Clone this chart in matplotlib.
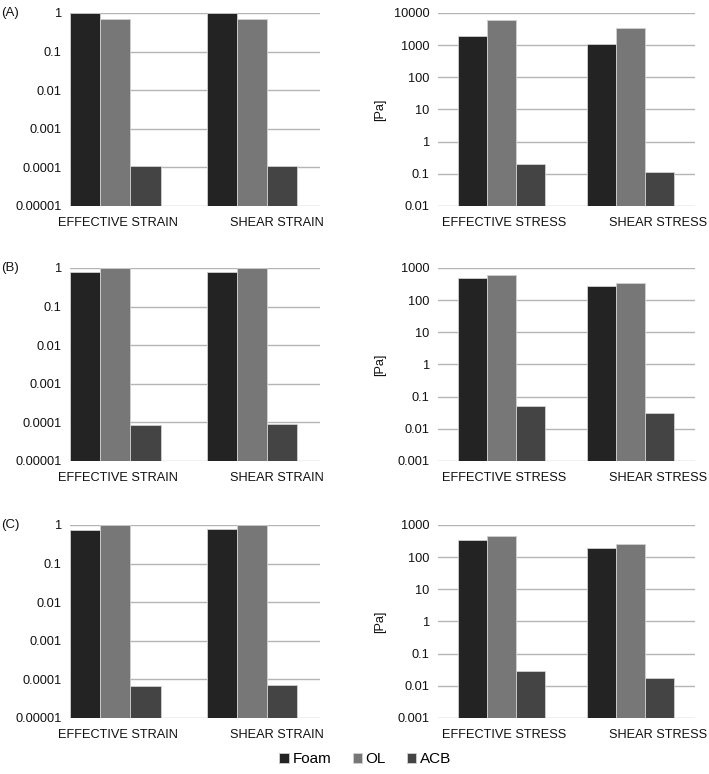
import matplotlib.pyplot as plt
import numpy as np

plt.rcParams['font.family'] = ['Liberation Sans', 'DejaVu Sans']
plt.rcParams['font.size'] = 9.2

series = ['Foam', 'OL', 'ACB']
colors = ['#232323', '#777777', '#444444']

strainCats = ['EFFECTIVE STRAIN', 'SHEAR STRAIN']
stressCats = ['EFFECTIVE STRESS', 'SHEAR STRESS']

# strain values per panel: rows = Foam, OL, ACB ; cols = effective, shear
strainA = [[1.0, 1.0], [0.71, 0.71], [1.08e-4, 1.08e-4]]
strainB = [[0.77, 0.77], [1.0, 1.0], [8.8e-5, 9.2e-5]]
strainC = [[0.76, 0.77], [1.0, 1.0], [6.9e-5, 7.1e-5]]

# stress values [Pa]
stressA = [[1900, 1100], [5930, 3440], [0.195, 0.11]]
stressB = [[471, 269], [611, 339], [0.0525, 0.0305]]
stressC = [[332, 186], [442, 249], [0.0298, 0.0173]]

strainTicks = [1e-5, 1e-4, 1e-3, 1e-2, 1e-1, 1]
strainLabels = ['0.00001', '0.0001', '0.001', '0.01', '0.1', '1']
stressTicksA = [0.01, 0.1, 1, 10, 100, 1000, 10000]
stressLabelsA = ['0.01', '0.1', '1', '10', '100', '1000', '10000']
stressTicksBC = [0.001, 0.01, 0.1, 1, 10, 100, 1000]
stressLabelsBC = ['0.001', '0.01', '0.1', '1', '10', '100', '1000']

panels = ['(A)', '(B)', '(C)']
rowBottoms = [0.7339, 0.4044, 0.0724]
rowHeight = 0.2494

fig = plt.figure(figsize=(7.09, 7.74), dpi=100)

def drawPanel(ax, data, cats, ticks, labels, width, xlim, labelPos):
    x = np.arange(len(cats))
    base = ticks[0]
    for i in range(len(series)):
        vals = np.array(data[i])
        ax.bar(x + (i - 1)*width, vals - base, width, bottom=base,
               color=colors[i], edgecolor='#d0d0d0', linewidth=0.6,
               label=series[i], zorder=3)
    ax.set_yscale('log')
    ax.set_ylim(ticks[0], ticks[-1])
    ax.set_yticks(ticks)
    ax.set_yticklabels(labels)
    ax.minorticks_off()
    # category labels sit a bit to the right of the second group, like the original
    ax.set_xticks(labelPos)
    ax.set_xticklabels(cats)
    ax.set_xlim(xlim)
    ax.tick_params(length=0, pad=8, colors='#111111')
    ax.tick_params(axis='y', pad=6)
    for t in ticks:
        ax.axhline(t, color='#b5b5b5', linewidth=1.0, zorder=1)
    for s in ax.spines.values():
        s.set_visible(False)

strains = [strainA, strainB, strainC]
stresses = [stressA, stressB, stressC]

for r in range(3):
    axL = fig.add_axes([0.0987, rowBottoms[r], 0.3526, rowHeight])
    drawPanel(axL, strains[r], strainCats, strainTicks, strainLabels, 0.22,
              (-0.333, 1.498), [0.018, 1.183])
    fig.text(0.002, rowBottoms[r] + rowHeight, panels[r], ha='left', va='center',
             fontsize=9.5, color='#111111')

    axR = fig.add_axes([0.6178, rowBottoms[r], 0.3625, rowHeight])
    if r == 0:
        drawPanel(axR, stresses[r], stressCats, stressTicksA, stressLabelsA, 0.225,
                  (-0.496, 1.504), [0.02, 1.215])
    else:
        drawPanel(axR, stresses[r], stressCats, stressTicksBC, stressLabelsBC, 0.225,
                  (-0.496, 1.504), [0.02, 1.215])
    axR.set_ylabel('[Pa]', color='#111111')
    axR.yaxis.set_label_coords(-0.202, 0.5)

handles, names = axL.get_legend_handles_labels()
fig.legend(handles, names, loc='center', bbox_to_anchor=(0.5155, 0.019), ncol=3,
           frameon=False, handlelength=0.6, handleheight=0.6, columnspacing=1.4,
           handletextpad=0.25, fontsize=11)

plt.savefig('out.png', dpi=100)
